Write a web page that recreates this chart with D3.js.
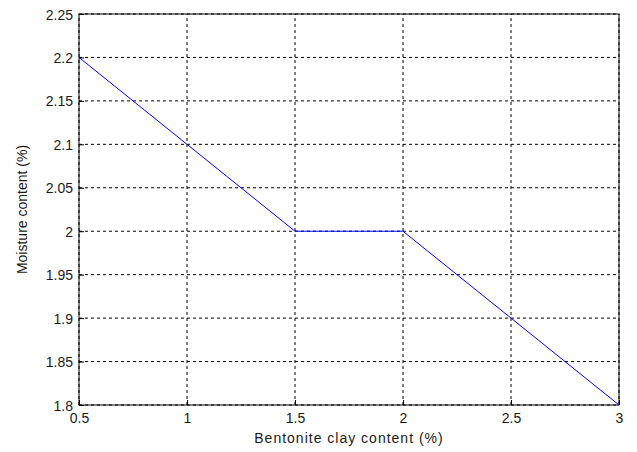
<!DOCTYPE html>
<html>
<head>
<meta charset="utf-8">
<script src="https://cdn.jsdelivr.net/npm/d3@7"></script>
<style>
  body { margin: 0; background: #fff; }
  svg text { font-family: "Liberation Sans", Arial, sans-serif; font-size: 14px; fill: #1a1a1a; }
</style>
</head>
<body>
<div id="chart-area"></div>
<script>
// data
const clay = [0.5, 1, 1.5, 2, 2.5, 3];
const moisture = [2.2, 2.1, 2.0, 2.0, 1.9, 1.8];
const xTicks = [0.5, 1, 1.5, 2, 2.5, 3];
const yTicks = [1.8, 1.85, 1.9, 1.95, 2, 2.05, 2.1, 2.15, 2.2, 2.25];

const width = 637, height = 452;
const margin = {left: 79, right: 18, top: 14, bottom: 47};

const svg = d3.select('#chart-area').append('svg')
    .attr('width', width)
    .attr('height', height);

const x = d3.scaleLinear().domain([0.5, 3]).range([margin.left, width - margin.right]);
const y = d3.scaleLinear().domain([1.8, 2.25]).range([height - margin.bottom, margin.top]);

// grid
svg.append('g').selectAll('line')
    .data(xTicks)
    .join('line')
    .attr('x1', d => x(d)).attr('x2', d => x(d))
    .attr('y1', y(1.8)).attr('y2', y(2.25))
    .attr('stroke', '#000')
    .attr('stroke-dasharray', '3,3');
svg.append('g').selectAll('line')
    .data(yTicks)
    .join('line')
    .attr('x1', x(0.5)).attr('x2', x(3))
    .attr('y1', d => y(d)).attr('y2', d => y(d))
    .attr('stroke', '#000')
    .attr('stroke-dasharray', '3,3');

// frame
svg.append('rect')
    .attr('x', x(0.5)).attr('y', y(2.25))
    .attr('width', x(3) - x(0.5)).attr('height', y(1.8) - y(2.25))
    .attr('fill', 'none').attr('stroke', '#000');

// axes (ticks inside, like matlab)
const xAxis = svg.append('g')
    .attr('transform', `translate(0,${y(1.8)})`)
    .call(d3.axisBottom(x).tickValues(xTicks).tickSize(-5).tickFormat(d3.format('')));
const yAxis = svg.append('g')
    .attr('transform', `translate(${x(0.5)},0)`)
    .call(d3.axisLeft(y).tickValues(yTicks).tickSize(-5).tickFormat(d3.format('')));
[xAxis, yAxis].forEach(a => {
    a.select('.domain').remove();
    a.selectAll('text').attr('font-size', 14).attr('font-family', '"Liberation Sans", Arial, sans-serif').attr('fill', '#1a1a1a');
});
xAxis.selectAll('text').attr('y', 18).attr('dy', 0);
yAxis.selectAll('text').attr('x', -6).attr('dy', '0.36em');

// line
const line = d3.line().x((d, i) => x(clay[i])).y(d => y(d));
svg.append('path')
    .datum(moisture)
    .attr('d', line)
    .attr('fill', 'none')
    .attr('stroke', '#0000ff')
    .attr('stroke-width', 1);

// labels
svg.append('text')
    .attr('x', (x(0.5) + x(3)) / 2)
    .attr('y', 443)
    .attr('text-anchor', 'middle')
    .attr('letter-spacing', 1)
    .text('Bentonite clay content (%)');
svg.append('text')
    .attr('transform', `translate(27,${(y(1.8) + y(2.25)) / 2}) rotate(-90)`)
    .attr('text-anchor', 'middle')
    .text('Moisture content (%)');
</script>
</body>
</html>
